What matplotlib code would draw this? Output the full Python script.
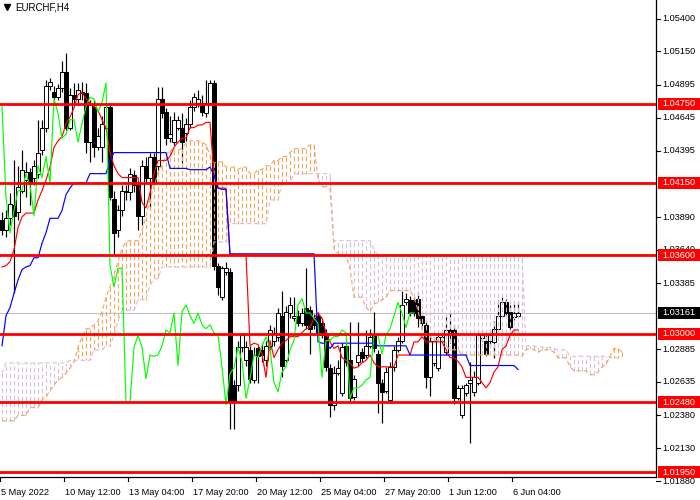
import matplotlib
matplotlib.use("Agg")
import matplotlib.pyplot as plt
import matplotlib.transforms as mtransforms
from matplotlib.patches import Rectangle
import numpy as np

plt.rcParams['font.family'] = ['Liberation Sans', 'DejaVu Sans']

symbol = "EURCHF,H4"

# H4 candles, 5 May 20:00 .. 6 Jun 08:00
opens = [1.0387, 1.0379, 1.0388, 1.0398, 1.0393, 1.0409, 1.0417, 1.0423, 1.0419, 1.0422,
         1.0440, 1.0457, 1.0489, 1.0484, 1.0480, 1.0487, 1.0499, 1.0457, 1.0482, 1.0479,
         1.0483, 1.0483, 1.0446, 1.0473, 1.0442, 1.0442, 1.0457, 1.0473, 1.0403, 1.0379,
         1.0394, 1.0408, 1.0408, 1.0421, 1.0413, 1.0390, 1.0428, 1.0419, 1.0435, 1.0428,
         1.0479, 1.0469, 1.0449, 1.0446, 1.0457, 1.0457, 1.0453, 1.0460, 1.0473, 1.0476,
         1.0476, 1.0468, 1.0476, 1.0491, 1.0352, 1.0328, 1.0347, 1.0347, 1.0261, 1.0261,
         1.0290, 1.0280, 1.0288, 1.0265, 1.0289, 1.0288, 1.0280, 1.0291, 1.0295, 1.0298,
         1.0314, 1.0280, 1.0316, 1.0312, 1.0314, 1.0308, 1.0320, 1.0318, 1.0312, 1.0314,
         1.0308, 1.0301, 1.0274, 1.0246, 1.0270, 1.0255, 1.0291, 1.0280, 1.0252, 1.0279,
         1.0286, 1.0284, 1.0291, 1.0299, 1.0285, 1.0263, 1.0257, 1.0250, 1.0275, 1.0288,
         1.0295, 1.0324, 1.0326, 1.0326, 1.0327, 1.0314, 1.0307, 1.0267, 1.0278, 1.0274,
         1.0295, 1.0286, 1.0303, 1.0303, 1.0251, 1.0238, 1.0255, 1.0263, 1.0256, 1.0263,
         1.0297, 1.0295, 1.0295, 1.0294, 1.0304, 1.0314, 1.0324, 1.0317, 1.0313, 1.0314]
highs = [1.0393, 1.0394, 1.0407, 1.0432, 1.0428, 1.0440, 1.0431, 1.0426, 1.0432, 1.0463,
         1.0463, 1.0493, 1.0495, 1.0489, 1.0490, 1.0508, 1.0514, 1.0487, 1.0491, 1.0491,
         1.0492, 1.0491, 1.0478, 1.0478, 1.0457, 1.0466, 1.0476, 1.0476, 1.0409, 1.0398,
         1.0413, 1.0413, 1.0426, 1.0425, 1.0417, 1.0432, 1.0435, 1.0438, 1.0438, 1.0488,
         1.0488, 1.0472, 1.0466, 1.0469, 1.0466, 1.0468, 1.0464, 1.0478, 1.0483, 1.0486,
         1.0482, 1.0493, 1.0493, 1.0493, 1.0354, 1.0352, 1.0355, 1.0350, 1.0265, 1.0295,
         1.0301, 1.0295, 1.0291, 1.0290, 1.0291, 1.0293, 1.0295, 1.0307, 1.0305, 1.0320,
         1.0333, 1.0321, 1.0328, 1.0328, 1.0318, 1.0320, 1.0350, 1.0321, 1.0315, 1.0317,
         1.0312, 1.0304, 1.0277, 1.0276, 1.0280, 1.0293, 1.0295, 1.0309, 1.0269, 1.0309,
         1.0289, 1.0303, 1.0304, 1.0317, 1.0288, 1.0266, 1.0275, 1.0279, 1.0291, 1.0298,
         1.0333, 1.0331, 1.0329, 1.0328, 1.0332, 1.0317, 1.0310, 1.0301, 1.0298, 1.0301,
         1.0301, 1.0314, 1.0316, 1.0307, 1.0261, 1.0261, 1.0263, 1.0279, 1.0272, 1.0303,
         1.0303, 1.0299, 1.0303, 1.0310, 1.0326, 1.0328, 1.0327, 1.0322, 1.0323, 1.0324]
lows = [1.0375, 1.0374, 1.0383, 1.0331, 1.0387, 1.0407, 1.0404, 1.0398, 1.0413, 1.0419,
        1.0436, 1.0454, 1.0486, 1.0478, 1.0478, 1.0484, 1.0455, 1.0455, 1.0476, 1.0474,
        1.0478, 1.0438, 1.0431, 1.0435, 1.0440, 1.0431, 1.0455, 1.0402, 1.0360, 1.0374,
        1.0390, 1.0402, 1.0402, 1.0408, 1.0379, 1.0383, 1.0415, 1.0396, 1.0413, 1.0425,
        1.0464, 1.0444, 1.0446, 1.0444, 1.0455, 1.0430, 1.0447, 1.0457, 1.0470, 1.0473,
        1.0466, 1.0465, 1.0474, 1.0349, 1.0330, 1.0326, 1.0345, 1.0228, 1.0228, 1.0257,
        1.0286, 1.0276, 1.0263, 1.0263, 1.0263, 1.0279, 1.0276, 1.0288, 1.0291, 1.0295,
        1.0267, 1.0279, 1.0312, 1.0310, 1.0306, 1.0306, 1.0304, 1.0285, 1.0304, 1.0299,
        1.0297, 1.0272, 1.0237, 1.0242, 1.0269, 1.0253, 1.0276, 1.0248, 1.0250, 1.0276,
        1.0279, 1.0282, 1.0289, 1.0286, 1.0240, 1.0232, 1.0255, 1.0248, 1.0272, 1.0286,
        1.0293, 1.0322, 1.0314, 1.0314, 1.0305, 1.0306, 1.0259, 1.0253, 1.0276, 1.0272,
        1.0294, 1.0284, 1.0293, 1.0247, 1.0250, 1.0236, 1.0253, 1.0217, 1.0253, 1.0261,
        1.0295, 1.0283, 1.0291, 1.0282, 1.0303, 1.0313, 1.0314, 1.0303, 1.0311, 1.0314]
closes = [1.0379, 1.0388, 1.0399, 1.0390, 1.0412, 1.0425, 1.0423, 1.0415, 1.0428, 1.0438,
          1.0457, 1.0489, 1.0492, 1.0480, 1.0487, 1.0499, 1.0457, 1.0482, 1.0479, 1.0486,
          1.0484, 1.0446, 1.0474, 1.0442, 1.0451, 1.0460, 1.0473, 1.0404, 1.0377, 1.0394,
          1.0409, 1.0409, 1.0422, 1.0413, 1.0390, 1.0428, 1.0419, 1.0435, 1.0415, 1.0479,
          1.0468, 1.0449, 1.0452, 1.0463, 1.0463, 1.0446, 1.0460, 1.0473, 1.0480, 1.0479,
          1.0469, 1.0476, 1.0491, 1.0352, 1.0336, 1.0350, 1.0350, 1.0248, 1.0248, 1.0290,
          1.0299, 1.0290, 1.0266, 1.0284, 1.0283, 1.0284, 1.0291, 1.0303, 1.0301, 1.0316,
          1.0276, 1.0317, 1.0322, 1.0314, 1.0308, 1.0316, 1.0307, 1.0304, 1.0307, 1.0301,
          1.0299, 1.0275, 1.0246, 1.0270, 1.0274, 1.0290, 1.0279, 1.0251, 1.0266, 1.0284,
          1.0282, 1.0291, 1.0298, 1.0289, 1.0263, 1.0256, 1.0271, 1.0275, 1.0288, 1.0295,
          1.0322, 1.0327, 1.0316, 1.0316, 1.0312, 1.0308, 1.0267, 1.0295, 1.0295, 1.0298,
          1.0298, 1.0303, 1.0301, 1.0251, 1.0259, 1.0259, 1.0261, 1.0265, 1.0267, 1.0299,
          1.0299, 1.0285, 1.0299, 1.0304, 1.0314, 1.0324, 1.0316, 1.0305, 1.0316, 1.03161]

# Ichimoku lines
tenkan = [1.0351, 1.0352, 1.0355, 1.0364, 1.0381, 1.0389, 1.0392, 1.0392, 1.0392, 1.0402,
          1.0409, 1.0417, 1.0427, 1.0442, 1.0447, 1.0450, 1.0460, 1.0465, 1.0472, 1.0482,
          1.0484, 1.0479, 1.0476, 1.0473, 1.0470, 1.0463, 1.0457, 1.0438, 1.0428, 1.0422,
          1.0419, 1.0419, 1.0419, 1.0419, 1.0419, 1.0400, 1.0396, 1.0407, 1.0422, 1.0432,
          1.0432, 1.0432, 1.0435, 1.0442, 1.0446, 1.0449, 1.0449, 1.0457, 1.0457, 1.0459,
          1.0459, 1.0461, 1.0461, 1.0421, 1.0411, 1.0411, 1.0411, 1.0360, 1.0360, 1.0360,
          1.0360, 1.0360, 1.0291, 1.0293, 1.0292, 1.0285, 1.0267, 1.0295, 1.0282, 1.0288,
          1.0293, 1.0295, 1.0298, 1.0298, 1.0298, 1.0301, 1.0304, 1.0305, 1.0312, 1.0316,
          1.0312, 1.0301, 1.0294, 1.0289, 1.0291, 1.0282, 1.0280, 1.0278, 1.0274, 1.0275,
          1.0278, 1.0280, 1.0284, 1.0278, 1.0275, 1.0275, 1.0275, 1.0275, 1.0275, 1.0284,
          1.0284, 1.0284, 1.0284, 1.0294, 1.0294, 1.0298, 1.0294, 1.0294, 1.0294, 1.0294,
          1.0294, 1.0288, 1.0282, 1.0282, 1.0279, 1.0275, 1.0267, 1.0267, 1.0267, 1.0267,
          1.0263, 1.0259, 1.0263, 1.0271, 1.0275, 1.0288, 1.0291, 1.0299, 1.0303, 1.0303]
kijun = [1.0291, 1.0314, 1.0320, 1.0331, 1.0341, 1.0349, 1.0351, 1.0352, 1.0358, 1.0358,
         1.0369, 1.0377, 1.0388, 1.0388, 1.0388, 1.0394, 1.0406, 1.0411, 1.0415, 1.0415,
         1.0415, 1.0415, 1.0422, 1.0422, 1.0422, 1.0422, 1.0422, 1.0432, 1.0438, 1.0438,
         1.0438, 1.0438, 1.0438, 1.0438, 1.0438, 1.0438, 1.0438, 1.0438, 1.0438, 1.0438,
         1.0438, 1.0438, 1.0426, 1.0426, 1.0426, 1.0426, 1.0426, 1.0425, 1.0425, 1.0425,
         1.0425, 1.0425, 1.0427, 1.0421, 1.0411, 1.0410, 1.0410, 1.0361, 1.0361, 1.0361,
         1.0361, 1.0361, 1.0361, 1.0361, 1.0361, 1.0361, 1.0361, 1.0361, 1.0361, 1.0361,
         1.0361, 1.0361, 1.0361, 1.0361, 1.0361, 1.0361, 1.0361, 1.0361, 1.0361, 1.0294,
         1.0293, 1.0293, 1.0289, 1.0293, 1.0293, 1.0293, 1.0293, 1.0293, 1.0293, 1.0293,
         1.0293, 1.0293, 1.0293, 1.0293, 1.0291, 1.0291, 1.0291, 1.0291, 1.0291, 1.0291,
         1.0291, 1.0291, 1.0284, 1.0284, 1.0284, 1.0284, 1.0284, 1.0284, 1.0284, 1.0284,
         1.0284, 1.0284, 1.0284, 1.0284, 1.0284, 1.0284, 1.0284, 1.0276, 1.0276, 1.0276,
         1.0276, 1.0276, 1.0276, 1.0276, 1.0276, 1.0276, 1.0276, 1.0276, 1.0276, 1.0273]
# cloud runs 26 bars past the last candle
span_a = [1.0234, 1.0234, 1.0234, 1.0234, 1.0238, 1.0238, 1.0238, 1.0244, 1.0244, 1.0244,
          1.0250, 1.0252, 1.0257, 1.0261, 1.0265, 1.0267, 1.0270, 1.0274, 1.0279, 1.0290,
          1.0298, 1.0304, 1.0304, 1.0307, 1.0310, 1.0317, 1.0328, 1.0336, 1.0345, 1.0355,
          1.0365, 1.0370, 1.0371, 1.0371, 1.0371, 1.0379, 1.0389, 1.0403, 1.0412, 1.0423,
          1.0428, 1.0436, 1.0440, 1.0440, 1.0440, 1.0441, 1.0445, 1.0447, 1.0447, 1.0447,
          1.0446, 1.0444, 1.0436, 1.0430, 1.0431, 1.0431, 1.0427, 1.0427, 1.0427, 1.0425,
          1.0427, 1.0427, 1.0422, 1.0422, 1.0425, 1.0425, 1.0428, 1.0428, 1.0432, 1.0432,
          1.0435, 1.0435, 1.0438, 1.0441, 1.0441, 1.0441, 1.0441, 1.0444, 1.0444, 1.0418,
          1.0412, 1.0412, 1.0410, 1.0365, 1.0361, 1.0360, 1.0360, 1.0350, 1.0328, 1.0328,
          1.0328, 1.0320, 1.0317, 1.0323, 1.0324, 1.0326, 1.0328, 1.0333, 1.0333, 1.0333,
          1.0333, 1.0333, 1.0333, 1.0328, 1.0318, 1.0303, 1.0298, 1.0298, 1.0295, 1.0295,
          1.0295, 1.0291, 1.0288, 1.0288, 1.0288, 1.0284, 1.0284, 1.0284, 1.0284, 1.0284,
          1.0284, 1.0284, 1.0284, 1.0284, 1.0284, 1.0284, 1.0284, 1.0284, 1.0284, 1.0284,
          1.0283, 1.0288, 1.0289, 1.0288, 1.0286, 1.0288, 1.0288, 1.0288, 1.0286, 1.0282,
          1.0282, 1.0282, 1.0275, 1.0272, 1.0272, 1.0272, 1.0272, 1.0269, 1.0269, 1.0271,
          1.0275, 1.0277, 1.0283, 1.0289, 1.0289, 1.0286]
span_b = [1.0270, 1.0278, 1.0278, 1.0278, 1.0278, 1.0278, 1.0278, 1.0278, 1.0278, 1.0278,
          1.0278, 1.0278, 1.0278, 1.0278, 1.0278, 1.0278, 1.0278, 1.0280, 1.0280, 1.0280,
          1.0280, 1.0280, 1.0280, 1.0288, 1.0288, 1.0288, 1.0291, 1.0291, 1.0299, 1.0310,
          1.0318, 1.0318, 1.0318, 1.0318, 1.0326, 1.0326, 1.0326, 1.0337, 1.0342, 1.0342,
          1.0351, 1.0351, 1.0351, 1.0351, 1.0351, 1.0351, 1.0351, 1.0351, 1.0351, 1.0351,
          1.0351, 1.0351, 1.0351, 1.0370, 1.0370, 1.0370, 1.0370, 1.0384, 1.0384, 1.0384,
          1.0384, 1.0384, 1.0384, 1.0384, 1.0384, 1.0384, 1.0384, 1.0402, 1.0402, 1.0402,
          1.0415, 1.0415, 1.0415, 1.0422, 1.0422, 1.0422, 1.0422, 1.0422, 1.0422, 1.0422,
          1.0422, 1.0422, 1.0422, 1.0371, 1.0371, 1.0371, 1.0371, 1.0371, 1.0371, 1.0371,
          1.0371, 1.0371, 1.0371, 1.0364, 1.0360, 1.0360, 1.0360, 1.0360, 1.0360, 1.0360,
          1.0360, 1.0360, 1.0360, 1.0360, 1.0360, 1.0360, 1.0360, 1.0360, 1.0360, 1.0360,
          1.0360, 1.0360, 1.0360, 1.0360, 1.0360, 1.0360, 1.0360, 1.0360, 1.0360, 1.0360,
          1.0360, 1.0360, 1.0360, 1.0360, 1.0360, 1.0360, 1.0360, 1.0360, 1.0360, 1.0360,
          1.0360, 1.0291, 1.0291, 1.0291, 1.0290, 1.0290, 1.0290, 1.0290, 1.0289, 1.0288,
          1.0288, 1.0288, 1.0283, 1.0283, 1.0283, 1.0283, 1.0283, 1.0283, 1.0283, 1.0283,
          1.0283, 1.0283, 1.0282, 1.0282, 1.0282, 1.0282]
chikou_shift = 26

levels = [1.04750, 1.04150, 1.03600, 1.03000, 1.02480, 1.01950]
last_price = 1.03161
# scale labels that are not hidden under the level tags
price_ticks = [1.05400, 1.05150, 1.04895, 1.04645, 1.04395, 1.03890, 1.03640,
               1.03385, 1.02885, 1.02635, 1.02380, 1.02130, 1.01880]
time_ticks = [0, 16, 32, 48, 64, 80, 96, 112, 128]
time_labels = ["5 May 2022", "10 May 12:00", "13 May 04:00", "17 May 20:00", "20 May 12:00",
               "25 May 04:00", "27 May 20:00", "1 Jun 12:00", "6 Jun 04:00"]

# pixel layout of the terminal window
W, H = 700, 500
plot_right, plot_bottom = 656, 477
y_top, y_bottom = 1.05541, 1.01912

fig = plt.figure(figsize=(W / 100, H / 100), dpi=100)
fig.patch.set_facecolor('white')
ax = fig.add_axes([0, 1 - plot_bottom / H, plot_right / W, plot_bottom / H])
ax.set_xlim(-0.5, 163.5)
ax.set_ylim(y_bottom, y_top)
ax.set_xticks([])
ax.set_yticks([])
for side in ['left', 'top']:
    ax.spines[side].set_visible(False)
for side in ['right', 'bottom']:
    ax.spines[side].set_color('black')
    ax.spines[side].set_linewidth(0.9)

n = len(closes)
x = np.arange(n)
o = np.array(opens)
c = np.array(closes)

# candles
ax.vlines(x, lows, highs, color='black', lw=0.85, zorder=2)
bull = c >= o
body_lo = np.minimum(o, c)
body_h = np.maximum(np.abs(c - o), 0.00002)
ax.bar(x[bull], body_h[bull], bottom=body_lo[bull], width=0.78, color='white',
       edgecolor='black', linewidth=0.7, zorder=2.5)
ax.bar(x[~bull], body_h[~bull], bottom=body_lo[~bull], width=0.78, color='black',
       edgecolor='black', linewidth=0.7, zorder=2.5)

# kumo hatch + outlines
dot = (0, (4, 2.5))
xc = np.arange(len(span_a))
cloud_cols = ['#f4a460' if a >= b else '#d8bfd8' for a, b in zip(span_a, span_b)]
ax.vlines(xc, span_a, span_b, colors=cloud_cols, linestyles=[dot], lw=0.8, zorder=3)
ax.plot(xc, span_a, color='#f4a460', ls=dot, lw=0.8, zorder=3)
ax.plot(xc, span_b, color='#d8bfd8', ls=dot, lw=0.8, zorder=3)

ax.plot(x, tenkan, color='#ff0000', lw=0.85, zorder=4)
ax.plot(x, kijun, color='#0000ff', lw=0.85, zorder=4)
ax.plot(x[:n - chikou_shift], closes[chikou_shift:], color='#00ff00', lw=0.85, zorder=4)

# bid line and horizontal levels
ax.axhline(last_price, color='#c0c0c0', lw=0.8, zorder=1)
for lvl in levels:
    ax.axhline(lvl, color='#ff0000', lw=2.0, zorder=6)

# price scale on the right
trans_y = mtransforms.blended_transform_factory(fig.transFigure, ax.transData)
px = (y_top - y_bottom) / plot_bottom
for p in price_ticks:
    ax.plot([plot_right / W, (plot_right + 4) / W], [p, p], transform=trans_y,
            color='black', lw=0.8, clip_on=False)
    ax.text((plot_right + 6) / W, p, f"{p:.5f}", transform=trans_y, fontsize=6.6,
            va='center', ha='left', color='black', clip_on=False)

tags = [(lvl, '#ff0000') for lvl in levels] + [(last_price, 'black')]
for p, col in tags:
    ax.add_patch(Rectangle(((plot_right + 2) / W, p - 6 * px), (W - plot_right - 2) / W, 12 * px,
                           transform=trans_y, facecolor=col, edgecolor='none',
                           clip_on=False, zorder=10))
    ax.text((plot_right + 6) / W, p, f"{p:.5f}", transform=trans_y, fontsize=6.6,
            va='center', ha='left', color='white', clip_on=False, zorder=11)

# time scale
trans_x = mtransforms.blended_transform_factory(ax.transData, fig.transFigure)
for t, lab in zip(time_ticks, time_labels):
    ax.plot([t - 0.5, t - 0.5], [(H - plot_bottom) / H, (H - plot_bottom - 4) / H],
            transform=trans_x, color='black', lw=0.8, clip_on=False)
    ax.text(t - 0.3, 7.5 / H, lab, transform=trans_x, fontsize=6.6, va='center',
            ha='left', color='black', clip_on=False)

# symbol caption
fig.text(15 / W, 1 - 7.5 / H, symbol, fontsize=7, va='center', ha='left', color='black')
ax.plot([6.5 / W], [1 - 6.5 / H], marker='v', markersize=4, color='black',
        transform=fig.transFigure, clip_on=False)

fig.savefig("out.png", dpi=100, facecolor='white')
